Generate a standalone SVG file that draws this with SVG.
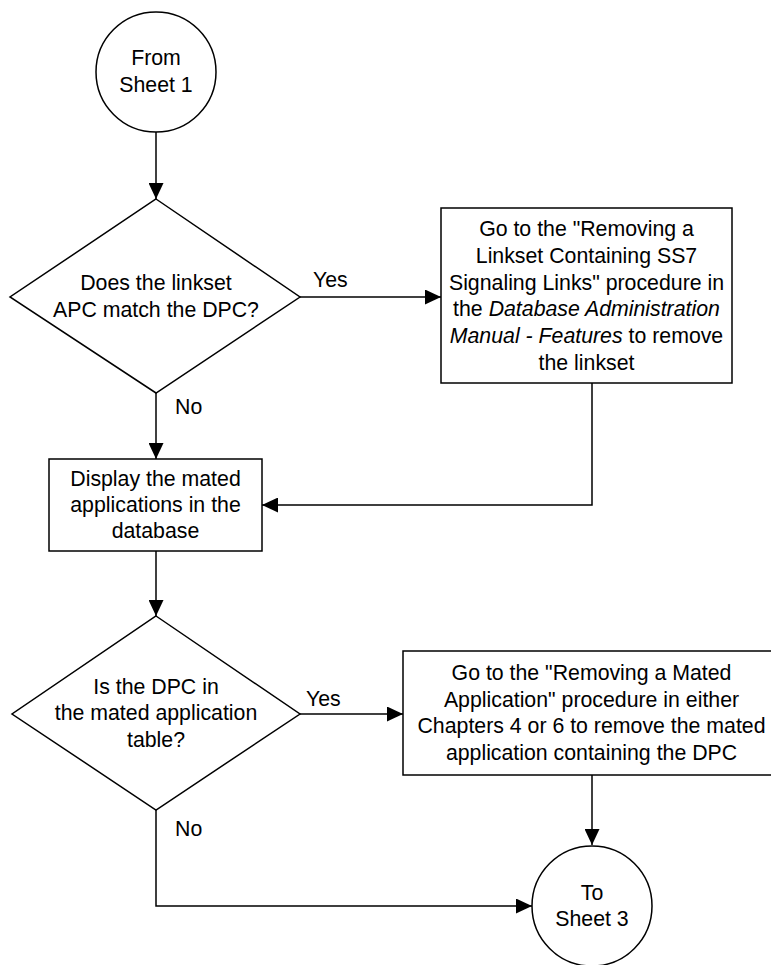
<svg xmlns="http://www.w3.org/2000/svg" width="771" height="965" viewBox="0 0 771 965">
<style>
.s{fill:#fff;stroke:#000;stroke-width:1.5}
.c{fill:none;stroke:#000;stroke-width:1.5}
text{font-family:"Liberation Sans",Arial,Helvetica,sans-serif;font-size:21.3px;fill:#000}
.m{text-anchor:middle}
.i{font-style:italic}
</style>
<defs>
<marker id="ah" markerUnits="userSpaceOnUse" markerWidth="17" markerHeight="15" refX="16" refY="7.5" orient="auto">
<path d="M0,0 L16,7.5 L0,15 z" fill="#000"/>
</marker>
</defs>
<g id="connectors">
<path class="c" d="M156,132 V199" marker-end="url(#ah)"/>
<path class="c" d="M300,297 H441" marker-end="url(#ah)"/>
<path class="c" d="M156,393 V459" marker-end="url(#ah)"/>
<path class="c" d="M592,383 V505 H262" marker-end="url(#ah)"/>
<path class="c" d="M156,551 V616" marker-end="url(#ah)"/>
<path class="c" d="M300,714 H403" marker-end="url(#ah)"/>
<path class="c" d="M592,775 V845" marker-end="url(#ah)"/>
<path class="c" d="M156,810 V906 H532" marker-end="url(#ah)"/>
<text x="313" y="287">Yes</text>
<text x="175" y="414">No</text>
<text x="306" y="706">Yes</text>
<text x="175" y="836">No</text>
</g>
<g id="start">
<circle class="s" cx="156" cy="72" r="60"/>
<text class="m" x="156" y="65">From</text>
<text class="m" x="156" y="92">Sheet 1</text>
</g>
<g id="d1">
<path class="s" d="M156,199 L300,297 L156,393 L10,297 z"/>
<text class="m" x="156" y="290">Does the linkset</text>
<text class="m" x="156" y="317">APC match the DPC?</text>
</g>
<g id="b1">
<rect class="s" x="441" y="208" width="291" height="175"/>
<text class="m" x="586.5" y="236">Go to the "Removing a</text>
<text class="m" x="586.5" y="263">Linkset Containing SS7</text>
<text class="m" x="586.5" y="290">Signaling Links" procedure in</text>
<text class="m" x="586.5" y="316">the <tspan class="i">Database Administration</tspan></text>
<text class="m" x="586.5" y="343"><tspan class="i">Manual - Features</tspan> to remove</text>
<text class="m" x="586.5" y="370">the linkset</text>
</g>
<g id="b2">
<rect class="s" x="49" y="459" width="213" height="92"/>
<text class="m" x="155.5" y="486">Display the mated</text>
<text class="m" x="155.5" y="512">applications in the</text>
<text class="m" x="155.5" y="538">database</text>
</g>
<g id="d2">
<path class="s" d="M156,616 L300,714 L156,810 L12,714 z"/>
<text class="m" x="156" y="694">Is the DPC in</text>
<text class="m" x="156" y="720">the mated application</text>
<text class="m" x="156" y="747">table?</text>
</g>
<g id="b3">
<rect class="s" x="403" y="651" width="377" height="124"/>
<text class="m" x="591.5" y="680">Go to the "Removing a Mated</text>
<text class="m" x="591.5" y="707">Application" procedure in either</text>
<text class="m" x="591.5" y="733">Chapters 4 or 6 to remove the mated</text>
<text class="m" x="591.5" y="760">application containing the DPC</text>
</g>
<g id="end">
<circle class="s" cx="592" cy="906" r="60"/>
<text class="m" x="592" y="900">To</text>
<text class="m" x="592" y="926">Sheet 3</text>
</g>
</svg>
